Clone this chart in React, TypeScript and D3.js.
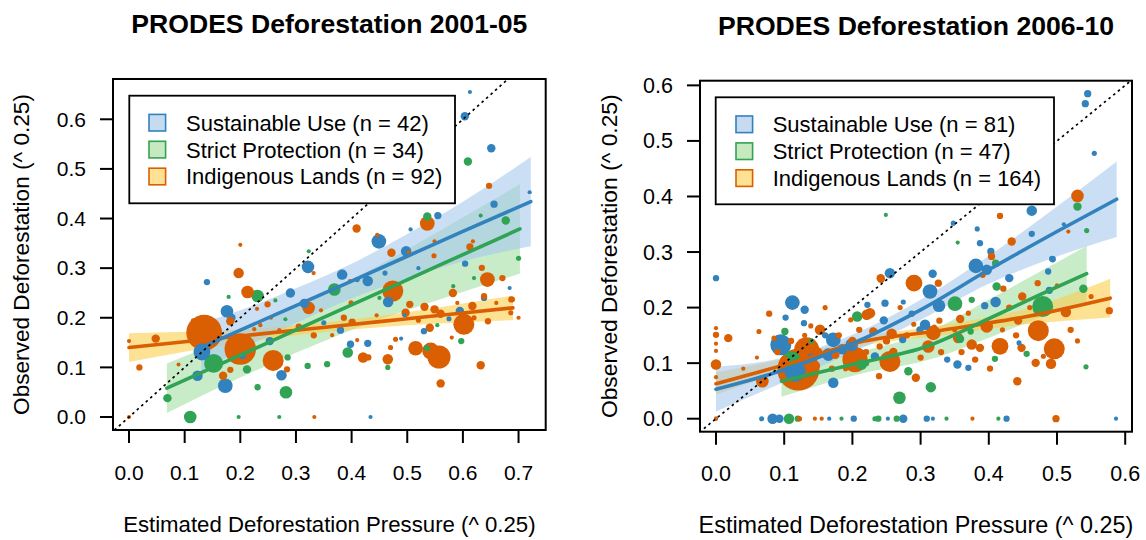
import React from 'react';
import * as d3 from 'd3';

type Pt = [number, number, number];

const GROUPS = ['Sustainable Use', 'Strict Protection', 'Indigenous Lands'];
const POINT_COLORS = ['#3182bd', '#31a354', '#d95f02'];
const BAND_COLORS = ['#a6c8ec', '#a3dea3', '#fccf4d'];
const LEGEND_FILLS = ['#c6dbef', '#c7e9c0', '#fde294'];
const TITLES = ['PRODES Deforestation 2001-05', 'PRODES Deforestation 2006-10'];
const X_LABEL = 'Estimated Deforestation Pressure (^ 0.25)';
const Y_LABEL = 'Observed Deforestation (^ 0.25)';
const COUNTS_01 = [42, 34, 92];
const COUNTS_06 = [81, 47, 164];
const X_TICKS_01 = [0, 0.1, 0.2, 0.3, 0.4, 0.5, 0.6, 0.7];
const Y_TICKS_01 = [0, 0.1, 0.2, 0.3, 0.4, 0.5, 0.6];
const X_TICKS_06 = [0, 0.1, 0.2, 0.3, 0.4, 0.5, 0.6];
const Y_TICKS_06 = [0, 0.1, 0.2, 0.3, 0.4, 0.5, 0.6];

// points: [estimated pressure, observed deforestation, area weight]
const SU_01: Pt[] = [
  [0.6126, 0.655, 4], [0.6035, 0.606, 16], [0.651, 0.5416, 16], [0.72, 0.453, 4], [0.656, 0.429, 12],
  [0.555, 0.406, 12], [0.506, 0.378, 4], [0.449, 0.354, 49], [0.498, 0.334, 25], [0.3216, 0.3026, 36],
  [0.604, 0.309, 9], [0.383, 0.287, 25], [0.429, 0.274, 25], [0.41, 0.277, 6], [0.29, 0.25, 20],
  [0.4656, 0.2316, 25], [0.684, 0.26, 4], [0.638, 0.24, 9], [0.575, 0.198, 6], [0.5945, 0.2135, 16],
  [0.53, 0.173, 9], [0.489, 0.158, 4], [0.398, 0.1466, 12], [0.429, 0.1486, 12], [0.434, 0.0, 4],
  [0.315, 0.229, 20], [0.38, 0.175, 12], [0.14, 0.272, 9], [0.176, 0.213, 36], [0.184, 0.2, 16],
  [0.131, 0.131, 64], [0.123, 0.083, 25], [0.173, 0.063, 49], [0.204, 0.123, 9], [0.274, 0.084, 25],
  [0.253, 0.153, 16], [0.495, 0.205, 4], [0.35, 0.19, 6], [0.46, 0.29, 6], [0.52, 0.3, 4],
];
const SP_01: Pt[] = [
  [0.609, 0.515, 16], [0.632, 0.406, 4], [0.677, 0.396, 16], [0.536, 0.404, 16], [0.323, 0.334, 4],
  [0.369, 0.257, 36], [0.5826, 0.2637, 4], [0.7, 0.32, 6], [0.597, 0.153, 9], [0.465, 0.1, 6],
  [0.393, 0.13, 25], [0.356, 0.1064, 9], [0.321, 0.103, 9], [0.285, 0.12, 9], [0.282, 0.05, 36],
  [0.27, 0.0, 4], [0.197, 0.0, 4], [0.231, 0.06, 9], [0.212, 0.096, 16], [0.152, 0.108, 81],
  [0.069, 0.038, 16], [0.11, 0.0, 36], [0.231, 0.244, 36], [0.179, 0.242, 4], [0.263, 0.235, 4],
  [0.281, 0.197, 4], [0.535, 0.139, 9], [0.554, 0.185, 4], [0.45, 0.24, 4], [0.62, 0.28, 4],
];
const IL_01: Pt[] = [
  [0.0, 0.0, 4], [0.0, 0.153, 4], [0.048, 0.158, 16], [0.0186, 0.1, 9], [0.089, 0.106, 2],
  [0.197, 0.29, 25], [0.213, 0.252, 36], [0.249, 0.227, 9], [0.182, 0.193, 16], [0.135, 0.17, 289],
  [0.2, 0.137, 225], [0.169, 0.083, 16], [0.182, 0.095, 9], [0.259, 0.114, 100], [0.284, 0.096, 9],
  [0.23, 0.218, 4], [0.236, 0.185, 4], [0.225, 0.177, 4], [0.305, 0.182, 9], [0.115, 0.195, 4],
  [0.2, 0.347, 4], [0.647, 0.466, 9], [0.536, 0.39, 49], [0.409, 0.38, 16], [0.446, 0.367, 4],
  [0.549, 0.354, 4], [0.618, 0.354, 4], [0.6126, 0.343, 12], [0.4716, 0.331, 16], [0.548, 0.325, 6],
  [0.634, 0.3006, 9], [0.644, 0.277, 49], [0.671, 0.28, 9], [0.397, 0.274, 4], [0.474, 0.254, 100],
  [0.399, 0.23, 6], [0.5315, 0.2235, 9], [0.582, 0.25, 16], [0.687, 0.237, 9], [0.638, 0.2436, 9],
  [0.5045, 0.227, 12], [0.531, 0.222, 16], [0.549, 0.217, 16], [0.56, 0.208, 16], [0.6017, 0.1867, 100],
  [0.645, 0.193, 9], [0.617, 0.2236, 16], [0.5405, 0.18, 16], [0.497, 0.21, 16], [0.479, 0.1566, 6],
  [0.515, 0.1386, 49], [0.557, 0.121, 121], [0.542, 0.133, 64], [0.56, 0.0677, 16], [0.632, 0.1044, 16],
  [0.465, 0.1165, 25], [0.4206, 0.12, 25], [0.333, 0.0, 4], [0.3228, 0.22, 36], [0.386, 0.2, 9],
  [0.401, 0.191, 12], [0.332, 0.1646, 9], [0.3317, 0.29, 4], [0.686, 0.21, 6], [0.689, 0.237, 6],
  [0.503, 0.332, 4], [0.27, 0.175, 4], [0.345, 0.215, 4], [0.41, 0.155, 4], [0.47, 0.14, 6],
  [0.58, 0.16, 4], [0.62, 0.2, 6], [0.66, 0.23, 4], [0.7, 0.2, 4], [0.43, 0.12, 9],
  [0.445, 0.205, 4], [0.365, 0.165, 4], [0.59, 0.23, 4], [0.52, 0.195, 6], [0.255, 0.2, 4],
];

const SU_06: Pt[] = [
  [0, 0.253, 9], [0.112, 0.209, 49], [0.13, 0.196, 16], [0.102, 0.182, 9], [0.129, 0.172, 9],
  [0.095, 0.133, 100], [0.1158, 0.0855, 100], [0.172, 0.0646, 25], [0.1647, 0.1154, 36], [0.172, 0.142, 49],
  [0.199, 0.133, 36], [0.222, 0.205, 9], [0.067, 0, 6], [0.083, 0, 25], [0.093, 0, 16],
  [0.166, 0, 4], [0.202, 0, 9], [0.252, 0, 4], [0.2746, 0, 16], [0.309, 0, 9],
  [0.318, 0, 4], [0.426, 0, 9], [0.5865, 0, 4], [0.233, 0.112, 16], [0.339, 0.1065, 9],
  [0.354, 0.0975, 16], [0.37, 0.0915, 9], [0.4443, 0.1364, 6], [0.4887, 0.231, 12], [0.493, 0.2877, 9],
  [0.487, 0.265, 9], [0.381, 0.275, 49], [0.397, 0.268, 25], [0.43, 0.253, 16], [0.41, 0.21, 25],
  [0.394, 0.2034, 12], [0.327, 0.2034, 36], [0.3138, 0.229, 49], [0.3177, 0.261, 16], [0.255, 0.262, 25],
  [0.2478, 0.208, 12], [0.246, 0.177, 16], [0.2746, 0.21, 6], [0.287, 0.189, 9], [0.3065, 0.169, 25],
  [0.2737, 0.1424, 12], [0.299, 0.16, 12], [0.545, 0.585, 12], [0.5415, 0.567, 12], [0.5547, 0.4776, 6],
  [0.463, 0.3745, 25], [0.51, 0.35, 4], [0.463, 0.3327, 9], [0.383, 0.3416, 6], [0.387, 0.316, 9],
  [0.348, 0.352, 6], [0.403, 0.301, 12], [0.4937, 0.287, 9], [0.16, 0.15, 9], [0.185, 0.125, 25],
  [0.14, 0.11, 16], [0.0, 0.0, 4],
];
const SP_06: Pt[] = [
  [0.101, 0.157, 12], [0.111, 0.1065, 64], [0.2136, 0.0975, 25], [0.207, 0.184, 25], [0.107, 0, 25],
  [0.184, 0, 4], [0.233, 0, 6], [0.238, 0, 9], [0.265, 0, 9], [0.338, 0, 4],
  [0.414, 0, 4], [0.269, 0.0377, 36], [0.315, 0.0568, 25], [0.282, 0.0855, 16], [0.409, 0.1077, 9],
  [0.4555, 0.1167, 9], [0.479, 0.202, 100], [0.5386, 0.234, 16], [0.5425, 0.0933, 6], [0.4115, 0.279, 9],
  [0.4115, 0.238, 16], [0.3504, 0.207, 49], [0.375, 0.214, 9], [0.3578, 0.1436, 16], [0.3734, 0.157, 9],
  [0.53, 0.3818, 16], [0.5435, 0.3386, 6], [0.3544, 0.317, 4], [0.249, 0.3668, 4], [0.41, 0.28, 12],
  [0.14, 0.14, 6], [0.22, 0.1, 9], [0.12, 0.0, 9],
];
const IL_06: Pt[] = [
  [0, 0.163, 4], [0, 0.151, 9], [0.018, 0.145, 16], [0, 0.135, 4], [0, 0.122, 4],
  [0, 0.0975, 25], [0, 0.0747, 4], [0, 0.0, 4], [0.068, 0.0675, 36], [0.063, 0.157, 6],
  [0.078, 0.189, 9], [0.139, 0.167, 6], [0.1525, 0.16, 25], [0.1207, 0.0885, 400], [0.133, 0.124, 144],
  [0.2038, 0.1065, 144], [0.221, 0.187, 25], [0.1975, 0.178, 6], [0.1225, 0, 6], [0.145, 0, 4],
  [0.155, 0, 4], [0.376, 0, 4], [0.4985, 0, 12], [0.293, 0.0736, 16], [0.239, 0.0765, 9],
  [0.255, 0.103, 100], [0.38, 0.1065, 9], [0.4018, 0.0903, 9], [0.4164, 0.1303, 64], [0.387, 0.1275, 16],
  [0.375, 0.1334, 25], [0.355, 0.1454, 25], [0.397, 0.1662, 36], [0.448, 0.1275, 16], [0.4687, 0.1005, 16],
  [0.48, 0.1124, 6], [0.4912, 0.0987, 25], [0.4726, 0.1585, 100], [0.496, 0.1257, 100], [0.4418, 0.0675, 16],
  [0.513, 0.192, 25], [0.5767, 0.1944, 12], [0.443, 0.1765, 16], [0.449, 0.22, 16], [0.4717, 0.244, 9],
  [0.391, 0.259, 9], [0.4213, 0.234, 9], [0.326, 0.244, 12], [0.2903, 0.244, 64], [0.242, 0.251, 12],
  [0.2258, 0.19, 25], [0.3186, 0.1544, 49], [0.3113, 0.13, 36], [0.2576, 0.153, 25], [0.2306, 0.157, 16],
  [0.358, 0.1795, 16], [0.3275, 0.1765, 9], [0.53, 0.401, 36], [0.4164, 0.365, 9], [0.5166, 0.3368, 4],
  [0.4335, 0.319, 16], [0.404, 0.292, 12], [0.2415, 0.253, 16], [0.09, 0.12, 9], [0.11, 0.14, 9],
  [0.15, 0.12, 16], [0.17, 0.09, 9], [0.18, 0.15, 9], [0.2, 0.14, 16], [0.16, 0.2, 6],
  [0.13, 0.15, 6], [0.19, 0.09, 6], [0.22, 0.12, 9], [0.24, 0.13, 9], [0.26, 0.12, 16],
  [0.28, 0.15, 9], [0.3, 0.11, 9], [0.27, 0.2, 6], [0.33, 0.12, 9], [0.35, 0.16, 6],
  [0.29, 0.17, 6], [0.06, 0.11, 4], [0.04, 0.09, 4], [0.44, 0.15, 9], [0.52, 0.16, 9],
  [0.46, 0.2, 6], [0.5, 0.24, 4], [0.55, 0.22, 6], [0.43, 0.2, 9], [0.37, 0.19, 6],
  [0.1, 0.105, 16], [0.145, 0.095, 25], [0.175, 0.115, 16], [0.21, 0.16, 9], [0.25, 0.14, 12],
  [0.085, 0.145, 6], [0.32, 0.165, 6], [0.36, 0.12, 9], [0.42, 0.16, 6], [0.53, 0.14, 6],
];

// fitted curves: x, fitted y, half-width of confidence band
const FIT_SU_01_X = [0.13, 0.2, 0.3, 0.4, 0.5, 0.6, 0.722];
const FIT_SU_01_Y = [0.14, 0.175, 0.2245, 0.274, 0.324, 0.374, 0.434];
const FIT_SU_01_SE = [0.05, 0.04, 0.035, 0.035, 0.045, 0.06, 0.09];
const FIT_SP_01_X = [0.068, 0.15, 0.25, 0.35, 0.45, 0.55, 0.7025];
const FIT_SP_01_Y = [0.058, 0.0995, 0.15, 0.2007, 0.2513, 0.302, 0.379];
const FIT_SP_01_SE = [0.05, 0.046, 0.045, 0.048, 0.055, 0.068, 0.09];
const FIT_IL_01_X = [0, 0.1, 0.2, 0.3, 0.4, 0.5, 0.6, 0.69];
const FIT_IL_01_Y = [0.14, 0.1516, 0.1632, 0.1748, 0.1864, 0.198, 0.2096, 0.22];
const FIT_IL_01_SE = [0.029, 0.02, 0.013, 0.01, 0.01, 0.013, 0.019, 0.025];

const FIT_SU_06_X = [0, 0.1, 0.2, 0.3, 0.4, 0.5, 0.5875];
const FIT_SU_06_Y = [0.053, 0.088, 0.135, 0.196, 0.268, 0.337, 0.395];
const FIT_SU_06_SE = [0.04, 0.022, 0.016, 0.018, 0.025, 0.045, 0.068];
const FIT_SP_06_X = [0.096, 0.211, 0.309, 0.407, 0.48, 0.5435];
const FIT_SP_06_Y = [0.0675, 0.1005, 0.13, 0.184, 0.226, 0.261];
const FIT_SP_06_SE = [0.028, 0.02, 0.025, 0.035, 0.042, 0.05];
const FIT_IL_06_X = [0, 0.123, 0.211, 0.324, 0.456, 0.578];
const FIT_IL_06_Y = [0.063, 0.105, 0.138, 0.158, 0.184, 0.217];
const FIT_IL_06_SE = [0.02, 0.01, 0.008, 0.009, 0.014, 0.035];

const FONT = '"Liberation Sans", Arial, Helvetica, sans-serif';

type Fit = { x: number[]; y: number[]; se: number[] };

interface PanelProps {
  id: string;
  box: { x0: number; y0: number; x1: number; y1: number };
  title: string;
  titleBaseline: number;
  points: Pt[][];
  fits: Fit[];
  counts: number[];
  xTicks: number[];
  yTicks: number[];
  tickFont: number;
  xLabFont: number;
  yLabFont: number;
  xLabBaseline: number;
  yLabX: number;
  legend: { dx: number; dy: number; w: number; h: number; sqX: number; textX: number; row0: number };
}

function expand(vals: number[]): [number, number] {
  const lo = d3.min(vals) as number;
  const hi = d3.max(vals) as number;
  const pad = (hi - lo) * 0.04;
  return [lo - pad, hi + pad];
}

function Panel(p: PanelProps) {
  const { box } = p;
  const all = p.points.flatMap((g, gi) => g.map((d) => ({ d, gi })));
  const x = d3.scaleLinear().domain(expand(all.map((a) => a.d[0]))).range([box.x0, box.x1]);
  const y = d3.scaleLinear().domain(expand(all.map((a) => a.d[1]))).range([box.y1, box.y0]);
  const r = d3.scaleSqrt().domain([0, 400]).range([0, 21]);
  const sorted = [...all].sort((a, b) => b.d[2] - a.d[2]);
  const cx = (box.x0 + box.x1) / 2;
  const cy = (box.y0 + box.y1) / 2;

  const area = d3.area<number>().curve(d3.curveMonotoneX);
  const line = d3.line<number>().curve(d3.curveMonotoneX);

  const bandPath = (f: Fit) =>
    area
      .x((i) => x(f.x[i]))
      .y0((i) => y(f.y[i] - f.se[i]))
      .y1((i) => y(f.y[i] + f.se[i]))(f.x.map((_, i) => i)) || '';
  const linePath = (f: Fit) =>
    line.x((i) => x(f.x[i])).y((i) => y(f.y[i]))(f.x.map((_, i) => i)) || '';

  const bandOrder = [1, 2, 0];
  const lineOrder = [2, 1, 0];
  const clipId = `clip-${p.id}`;
  const lg = p.legend;
  const lx = box.x0 + lg.dx;
  const ly = box.y0 + lg.dy;

  return (
    <g>
      <defs>
        <clipPath id={clipId}>
          <rect x={box.x0} y={box.y0} width={box.x1 - box.x0} height={box.y1 - box.y0} />
        </clipPath>
      </defs>
      <text x={cx} y={p.titleBaseline} textAnchor="middle" fontFamily={FONT} fontWeight="bold" fontSize={26.6}>
        {p.title}
      </text>
      <g clipPath={`url(#${clipId})`}>
        {bandOrder.map((gi) => (
          <path key={`b${gi}`} d={bandPath(p.fits[gi])} fill={BAND_COLORS[gi]} fillOpacity={0.6} stroke="none" />
        ))}
        {sorted.map((a, i) => (
          <circle
            key={`p${i}`}
            cx={x(a.d[0])}
            cy={y(a.d[1])}
            r={Math.max(2, r(a.d[2]))}
            fill={POINT_COLORS[a.gi]}
          />
        ))}
        {lineOrder.map((gi) => (
          <path
            key={`l${gi}`}
            d={linePath(p.fits[gi])}
            fill="none"
            stroke={POINT_COLORS[gi]}
            strokeWidth={3.6}
            strokeLinecap="round"
          />
        ))}
        <line
          x1={x(-1)}
          y1={y(-1)}
          x2={x(1)}
          y2={y(1)}
          stroke="#000"
          strokeWidth={1.7}
          strokeDasharray="2.5,3.5"
        />
      </g>
      <rect
        x={box.x0}
        y={box.y0}
        width={box.x1 - box.x0}
        height={box.y1 - box.y0}
        fill="none"
        stroke="#000"
        strokeWidth={2}
      />
      {p.xTicks.map((t) => (
        <g key={`xt${t}`}>
          <line x1={x(t)} x2={x(t)} y1={box.y1} y2={box.y1 + 13} stroke="#000" strokeWidth={2} />
          <text x={x(t)} y={box.y1 + 49.5} textAnchor="middle" fontFamily={FONT} fontSize={p.tickFont}>
            {d3.format('.1f')(t)}
          </text>
        </g>
      ))}
      {p.yTicks.map((t) => (
        <g key={`yt${t}`}>
          <line x1={box.x0 - 13} x2={box.x0} y1={y(t)} y2={y(t)} stroke="#000" strokeWidth={2} />
          <text
            x={box.x0 - 27}
            y={y(t)}
            dy="0.35em"
            textAnchor="end"
            fontFamily={FONT}
            fontSize={p.tickFont}
          >
            {d3.format('.1f')(t)}
          </text>
        </g>
      ))}
      <text x={cx} y={p.xLabBaseline} textAnchor="middle" fontFamily={FONT} fontSize={p.xLabFont}>
        {X_LABEL}
      </text>
      <text
        transform={`translate(${p.yLabX},${cy}) rotate(-90)`}
        textAnchor="middle"
        fontFamily={FONT}
        fontSize={p.yLabFont}
      >
        {Y_LABEL}
      </text>
      <rect x={lx} y={ly} width={lg.w} height={lg.h} fill="#fff" stroke="#000" strokeWidth={1.8} />
      {GROUPS.map((g, gi) => {
        const rowY = ly + lg.row0 + gi * 26.9;
        return (
          <g key={`lg${gi}`}>
            <rect
              x={lx + lg.sqX}
              y={rowY - 8.3}
              width={16.6}
              height={16.6}
              fill={LEGEND_FILLS[gi]}
              stroke={POINT_COLORS[gi]}
              strokeWidth={1.6}
            />
            <text x={lx + lg.textX} y={rowY} dy="0.36em" fontFamily={FONT} fontSize={22}>
              {`${g} (n = ${p.counts[gi]})`}
            </text>
          </g>
        );
      })}
    </g>
  );
}

export default function App() {
  const fits01: Fit[] = [
    { x: FIT_SU_01_X, y: FIT_SU_01_Y, se: FIT_SU_01_SE },
    { x: FIT_SP_01_X, y: FIT_SP_01_Y, se: FIT_SP_01_SE },
    { x: FIT_IL_01_X, y: FIT_IL_01_Y, se: FIT_IL_01_SE },
  ];
  const fits06: Fit[] = [
    { x: FIT_SU_06_X, y: FIT_SU_06_Y, se: FIT_SU_06_SE },
    { x: FIT_SP_06_X, y: FIT_SP_06_Y, se: FIT_SP_06_SE },
    { x: FIT_IL_06_X, y: FIT_IL_06_Y, se: FIT_IL_06_SE },
  ];
  return (
    <svg
      width={1146}
      height={540}
      style={{ position: 'absolute', left: 0, top: 0, background: '#fff' }}
    >
      <rect x={0} y={0} width={1146} height={540} fill="#fff" />
      <Panel
        id="a"
        box={{ x0: 113, y0: 79, x1: 545.7, y1: 430 }}
        title={TITLES[0]}
        titleBaseline={33}
        points={[SU_01, SP_01, IL_01]}
        fits={fits01}
        counts={COUNTS_01}
        xTicks={X_TICKS_01}
        yTicks={Y_TICKS_01}
        tickFont={21}
        xLabFont={22.2}
        yLabFont={22.6}
        xLabBaseline={531.5}
        yLabX={28.5}
        legend={{ dx: 16.3, dy: 16.7, w: 325.7, h: 107.6, sqX: 19.7, textX: 56.7, row0: 27 }}
      />
      <Panel
        id="b"
        box={{ x0: 700, y0: 80.7, x1: 1132, y1: 431.7 }}
        title={TITLES[1]}
        titleBaseline={35}
        points={[SU_06, SP_06, IL_06]}
        fits={fits06}
        counts={COUNTS_06}
        xTicks={X_TICKS_06}
        yTicks={Y_TICKS_06}
        tickFont={21.5}
        xLabFont={23.4}
        yLabFont={22.8}
        xLabBaseline={533}
        yLabX={616.8}
        legend={{ dx: 15.7, dy: 16.6, w: 338.3, h: 107, sqX: 20.3, textX: 57, row0: 27 }}
      />
    </svg>
  );
}
